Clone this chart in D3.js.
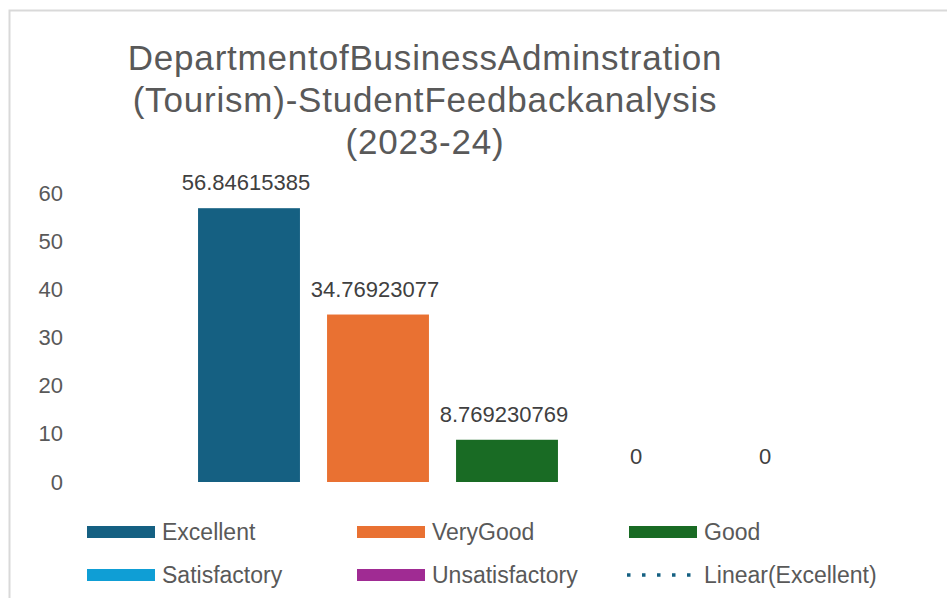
<!DOCTYPE html>
<html>
<head>
<meta charset="utf-8">
<script src="https://cdn.jsdelivr.net/npm/d3@7"></script>
<style>
  body { margin: 0; background: #fff; }
  text { font-family: "Liberation Sans", Arial, sans-serif; }
</style>
</head>
<body>
<script>
// chart data
var categories = ["Excellent", "VeryGood", "Good", "Satisfactory", "Unsatisfactory"];
var values = [56.84615385, 34.76923077, 8.769230769, 0, 0];
var valueLabels = ["56.84615385", "34.76923077", "8.769230769", "0", "0"];
var colors = ["#156082", "#E97132", "#196B24", "#0F9ED5", "#A02B93"];
var yTicks = [0, 10, 20, 30, 40, 50, 60];
var titleLines = ["DepartmentofBusinessAdminstration", "(Tourism)-StudentFeedbackanalysis", "(2023-24)"];
var legendItems = ["Excellent", "VeryGood", "Good", "Satisfactory", "Unsatisfactory", "Linear(Excellent)"];

var width = 947, height = 598;

var svg = d3.select("body").append("svg")
    .attr("width", width)
    .attr("height", height);

// chart area border
svg.append("rect")
    .attr("x", 9.5)
    .attr("y", 10.5)
    .attr("width", width)
    .attr("height", height)
    .attr("fill", "#fff")
    .attr("stroke", "#d9d9d9")
    .attr("stroke-width", 2);

// title
svg.append("text")
    .attr("x", 425)
    .attr("y", 70)
    .attr("text-anchor", "middle")
    .style("font-size", "35px")
    .style("letter-spacing", "0.8px")
    .style("fill", "#595959")
    .selectAll("tspan")
    .data(titleLines)
    .enter().append("tspan")
    .attr("x", 425)
    .attr("dy", function(d, i) { return i === 0 ? 0 : 42; })
    .text(function(d) { return d; });

// scales
var x = d3.scaleBand()
    .domain(categories)
    .range([184.5, 829.5])
    .paddingInner(0.21)
    .paddingOuter(0.105);

var y = d3.scaleLinear()
    .domain([0, 60])
    .range([482, 193]);

// y axis (labels only)
var yAxis = svg.append("g")
    .attr("transform", "translate(63,0)")
    .call(d3.axisLeft(y).tickValues(yTicks).tickSize(0).tickPadding(0));
yAxis.select(".domain").remove();
yAxis.selectAll("text")
    .style("font-size", "22px")
    .style("font-family", "'Liberation Sans', Arial, sans-serif")
    .style("fill", "#595959");

// bars
svg.selectAll(".bar")
    .data(values)
    .enter().append("rect")
    .attr("class", "bar")
    .attr("x", function(d, i) { return x(categories[i]); })
    .attr("y", function(d) { return y(d); })
    .attr("width", x.bandwidth())
    .attr("height", function(d) { return y(0) - y(d); })
    .attr("fill", function(d, i) { return colors[i]; });

// data labels
svg.selectAll(".label")
    .data(values)
    .enter().append("text")
    .attr("class", "label")
    .attr("x", function(d, i) { return x(categories[i]) + x.bandwidth() / 2 - (d > 0 ? 3 : 0); })
    .attr("y", function(d) { return y(d) - 18; })
    .attr("text-anchor", "middle")
    .style("font-size", "22px")
    .style("fill", "#404040")
    .text(function(d, i) { return valueLabels[i]; });

// legend
var legendCols = [87, 357, 629];
var legendRows = [532, 575];
var legend = svg.selectAll(".legend")
    .data(legendItems)
    .enter().append("g")
    .attr("class", "legend")
    .attr("transform", function(d, i) {
        return "translate(" + legendCols[i % 3] + "," + legendRows[Math.floor(i / 3)] + ")";
    });

legend.each(function(d, i) {
    var g = d3.select(this);
    if (i < colors.length) {
        g.append("rect")
            .attr("x", 0)
            .attr("y", -6)
            .attr("width", 68)
            .attr("height", 12)
            .attr("fill", colors[i]);
    } else {
        g.append("line")
            .attr("x1", -2)
            .attr("x2", 63)
            .attr("y1", 0)
            .attr("y2", 0)
            .attr("stroke", colors[0])
            .attr("stroke-width", 3.5)
            .attr("stroke-dasharray", "3.5,11.5");
    }
    g.append("text")
        .attr("x", 75)
        .attr("y", 8)
        .style("font-size", "23px")
        .style("fill", "#595959")
        .text(d);
});
</script>
</body>
</html>
